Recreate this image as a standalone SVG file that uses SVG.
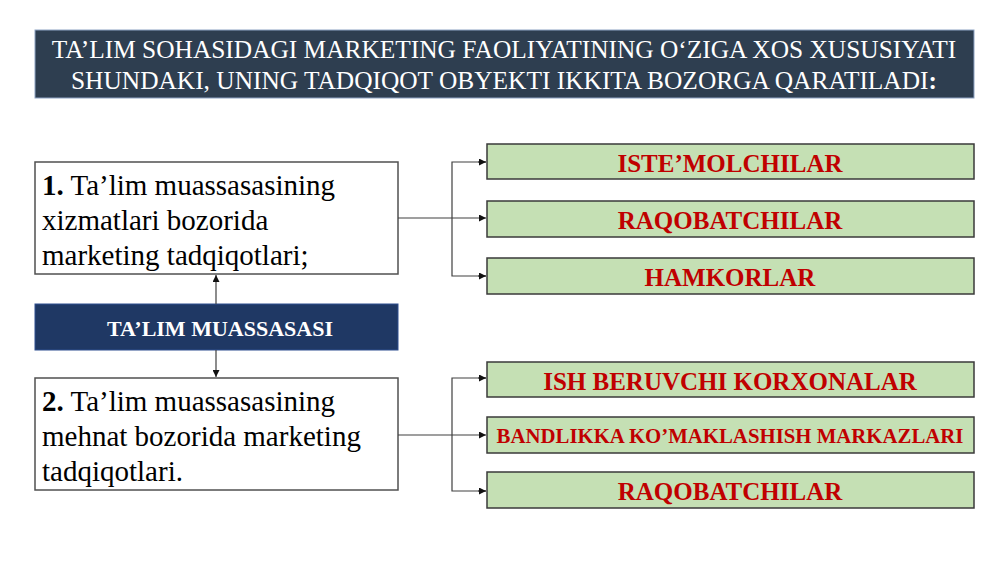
<svg xmlns="http://www.w3.org/2000/svg" width="1000" height="562" viewBox="0 0 1000 562">
<style>
.t{font-family:"Liberation Serif","Times New Roman",serif}
.title{fill:#ffffff;font-size:25.4px;text-anchor:middle}
.body{fill:#000000;font-size:29px}
.green rect{fill:#c5e0b4;stroke:#3a3a3a;stroke-width:1.5}
.green text{fill:#c00000;font-weight:bold;font-size:25px;text-anchor:middle}
.green text.small{font-size:20.8px}
.box{fill:#ffffff;stroke:#505050;stroke-width:1.5}
.conn{fill:none;stroke:#404040;stroke-width:1.2}
</style>
<defs>
<marker id="ah" viewBox="0 0 10 10" refX="10" refY="5" markerWidth="7" markerHeight="7" markerUnits="userSpaceOnUse" orient="auto">
<path d="M0,0 L10,5 L0,10 z" fill="#111111"/>
</marker>
</defs>
<rect x="0" y="0" width="1000" height="562" fill="#ffffff"/>
<g id="title">
<rect x="35" y="30" width="939" height="68" fill="#2e3e50" stroke="#8ea3c4" stroke-width="1"/>
<text class="t title" x="504" y="58">TA’LIM SOHASIDAGI MARKETING FAOLIYATINING O‘ZIGA XOS XUSUSIYATI</text>
<text class="t title" x="504" y="89">SHUNDAKI, UNING TADQIQOT OBYEKTI IKKITA BOZORGA QARATILADI<tspan font-weight="bold">:</tspan></text>
</g>
<g id="box1">
<rect class="box" x="35" y="162" width="363" height="112"/>
<text class="t body" x="42" y="195"><tspan font-weight="bold">1.</tspan> Ta’lim muassasasining</text>
<text class="t body" x="42" y="230">xizmatlari bozorida</text>
<text class="t body" x="42" y="265">marketing tadqiqotlari;</text>
</g>
<g id="talim">
<rect x="35" y="304" width="363" height="46" fill="#1f3864" stroke="#2f4f8f" stroke-width="1"/>
<text class="t" x="220" y="336" fill="#ffffff" font-weight="bold" font-size="22" text-anchor="middle">TA’LIM MUASSASASI</text>
</g>
<g id="box2">
<rect class="box" x="35" y="378" width="363" height="112"/>
<text class="t body" x="42" y="411"><tspan font-weight="bold">2.</tspan> Ta’lim muassasasining</text>
<text class="t body" x="42" y="446">mehnat bozorida marketing</text>
<text class="t body" x="42" y="481">tadqiqotlari.</text>
</g>
<g id="g1" class="green">
<rect x="487" y="144" width="487" height="35"/>
<text class="t" x="730" y="172">ISTE’MOLCHILAR</text>
</g>
<g id="g2" class="green">
<rect x="487" y="201" width="487" height="36"/>
<text class="t" x="730" y="229">RAQOBATCHILAR</text>
</g>
<g id="g3" class="green">
<rect x="487" y="258" width="487" height="36"/>
<text class="t" x="730" y="286">HAMKORLAR</text>
</g>
<g id="g4" class="green">
<rect x="487" y="362" width="487" height="35"/>
<text class="t" x="730" y="390">ISH BERUVCHI KORXONALAR</text>
</g>
<g id="g5" class="green">
<rect x="487" y="417" width="487" height="36"/>
<text class="t small" x="730" y="443">BANDLIKKA KO’MAKLASHISH MARKAZLARI</text>
</g>
<g id="g6" class="green">
<rect x="487" y="472" width="487" height="36"/>
<text class="t" x="730" y="500">RAQOBATCHILAR</text>
</g>
<g id="connectors">
<line class="conn" x1="216" y1="304" x2="216" y2="275" marker-end="url(#ah)"/>
<line class="conn" x1="216" y1="350" x2="216" y2="377" marker-end="url(#ah)"/>
<line class="conn" x1="398" y1="218" x2="486" y2="218" marker-end="url(#ah)"/>
<polyline class="conn" points="486,162 452,162 452,276 486,276"/>
<line class="conn" x1="478" y1="162" x2="486" y2="162" marker-end="url(#ah)"/>
<line class="conn" x1="478" y1="276" x2="486" y2="276" marker-end="url(#ah)"/>
<line class="conn" x1="398" y1="435" x2="486" y2="435" marker-end="url(#ah)"/>
<polyline class="conn" points="486,378 452,378 452,491 486,491"/>
<line class="conn" x1="478" y1="378" x2="486" y2="378" marker-end="url(#ah)"/>
<line class="conn" x1="478" y1="491" x2="486" y2="491" marker-end="url(#ah)"/>
</g>
</svg>
